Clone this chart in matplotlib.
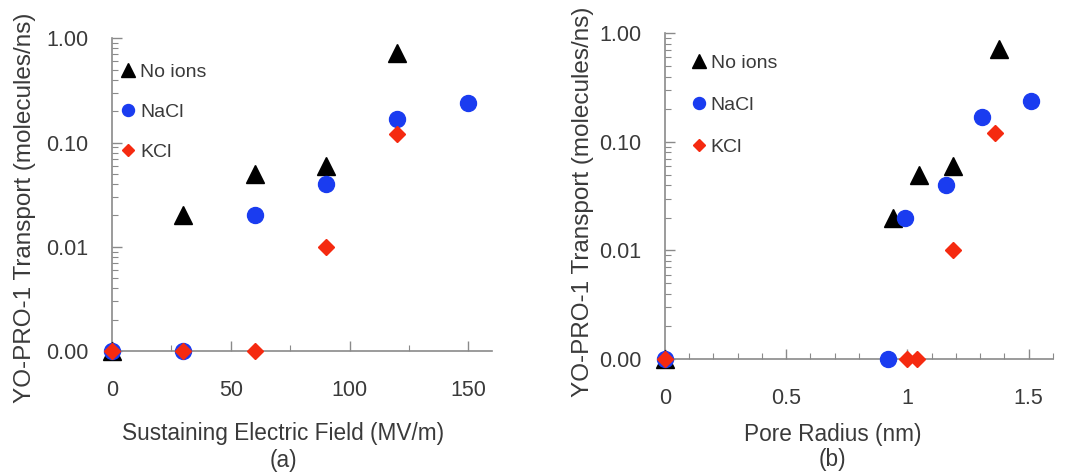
import numpy as np
import matplotlib
matplotlib.use("Agg")
import matplotlib.pyplot as plt
from matplotlib.ticker import FixedLocator, LogLocator, NullFormatter, FuncFormatter, MultipleLocator

plt.rcParams['font.family'] = ['Liberation Sans', 'DejaVu Sans']

# Panel (a): transport vs sustaining electric field
field_noions = [0, 30, 60, 90, 120]
trans_noions_a = [0, 0.02, 0.05, 0.06, 0.72]
field_nacl = [0, 30, 60, 90, 120, 150]
trans_nacl_a = [0, 0, 0.02, 0.04, 0.17, 0.24]
field_kcl = [0, 30, 60, 90, 120]
trans_kcl_a = [0, 0, 0, 0.01, 0.12]

# Panel (b): transport vs pore radius
radius_noions = [0, 0.94, 1.05, 1.19, 1.38]
trans_noions_b = [0, 0.02, 0.05, 0.06, 0.72]
radius_nacl = [0, 0.92, 0.99, 1.16, 1.31, 1.51]
trans_nacl_b = [0, 0, 0.02, 0.04, 0.17, 0.24]
radius_kcl = [0, 1.00, 1.04, 1.19, 1.36]
trans_kcl_b = [0, 0, 0, 0.01, 0.12]

ytick_vals = [0.001, 0.01, 0.1, 1.0]
FLOOR = 0.001

BLACK = '#000000'
BLUE = '#1a3cf0'
RED = '#f52a10'
AXC = '#8a8a8a'
TXT = '#3a3a3a'

fig = plt.figure(figsize=(10.75, 4.73), dpi=100)
ax_a = fig.add_axes([0.1042, 0.2579, 0.3535, 0.6611])
ax_b = fig.add_axes([0.6186, 0.2410, 0.3607, 0.6886])


def clip(v):
    v = np.asarray(v, dtype=float)
    return np.where(v <= 0, FLOOR, v)


def draw(ax, xn, yn, xs, ys, xk, yk, xlim, xmajor, xminor, xlabel, tag,
         ylab_xy, xlab_xy, tag_xy, leg_xy, lspace):
    ax.plot(xn, clip(yn), linestyle='none', marker='^', ms=13, color=BLACK,
            label='No ions', clip_on=False, zorder=3)
    ax.plot(xs, clip(ys), linestyle='none', marker='o', ms=11.5, color=BLUE,
            label='NaCl', clip_on=False, zorder=4)
    ax.plot(xk, clip(yk), linestyle='none', marker='D', ms=8.5, color=RED,
            label='KCl', clip_on=False, zorder=5)
    ax.set_yscale('log')
    ax.set_ylim(0.001, 1.0)
    ax.set_xlim(*xlim)
    ax.yaxis.set_major_locator(FixedLocator(ytick_vals))
    ax.yaxis.set_major_formatter(FuncFormatter(lambda v, p: f"{v:.2f}"))
    ax.yaxis.set_minor_locator(LogLocator(base=10, subs=np.arange(2, 10)))
    ax.yaxis.set_minor_formatter(NullFormatter())
    ax.xaxis.set_major_locator(MultipleLocator(xmajor))
    ax.xaxis.set_minor_locator(MultipleLocator(xminor))
    ax.xaxis.set_major_formatter(FuncFormatter(lambda v, p: f"{v:g}"))
    for s in ['top', 'right']:
        ax.spines[s].set_visible(False)
    for s in ['left', 'bottom']:
        ax.spines[s].set_color(AXC)
        ax.spines[s].set_linewidth(1.2)
    ax.tick_params(axis='both', which='both', direction='in', color=AXC,
                   labelcolor=TXT, labelsize=15.5)
    ax.tick_params(axis='both', which='major', length=7, width=1)
    ax.tick_params(axis='both', which='minor', length=4, width=0.8)
    ax.tick_params(axis='x', which='major', pad=21)
    ax.tick_params(axis='y', which='major', pad=17)
    ax.set_ylabel('YO-PRO-1 Transport (molecules/ns)', fontsize=17.5, color=TXT)
    ax.yaxis.set_label_coords(*ylab_xy)
    ax.yaxis.label.set_va('center')
    ax.set_xlabel(xlabel, fontsize=16.3, color=TXT)
    ax.xaxis.set_label_coords(*xlab_xy)
    ax.text(tag_xy[0], tag_xy[1], tag, transform=ax.transAxes, ha='center', va='center',
            fontsize=16.3, color=TXT)
    leg = ax.legend(loc='upper left', frameon=False, fontsize=14, handletextpad=0.0,
                    labelspacing=lspace, markerscale=0.75, handlelength=1.2,
                    borderaxespad=0.0, bbox_to_anchor=leg_xy)
    for t in leg.get_texts():
        t.set_color(TXT)


draw(ax_a, field_noions, trans_noions_a, field_nacl, trans_nacl_a, field_kcl, trans_kcl_a,
     (0, 160), 50, 25, 'Sustaining Electric Field (MV/m)', '(a)',
     (-0.229, 0.459), (0.45, -0.226), (0.45, -0.3486), (-0.008, 0.945), 1.15)
draw(ax_b, radius_noions, trans_noions_b, radius_nacl, trans_nacl_b, radius_kcl, trans_kcl_b,
     (0, 1.6), 0.5, 0.1, 'Pore Radius (nm)', '(b)',
     (-0.2115, 0.4836), (0.433, -0.1956), (0.433, -0.31), (0.038, 0.96), 1.25)

fig.savefig('out.png', dpi=100)
